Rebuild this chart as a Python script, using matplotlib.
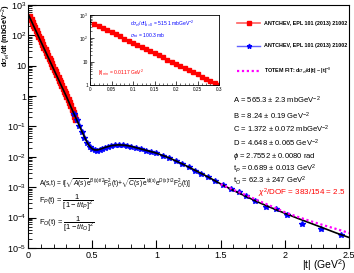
import numpy as np
import matplotlib
matplotlib.use("Agg")
import matplotlib.pyplot as plt
from matplotlib.ticker import FixedLocator, FuncFormatter
from matplotlib.lines import Line2D

plt.rcParams['font.family'] = ['Liberation Sans', 'DejaVu Sans']
plt.rcParams['mathtext.fontset'] = 'custom'
plt.rcParams['mathtext.rm'] = 'Liberation Sans'
plt.rcParams['mathtext.it'] = 'Liberation Sans:italic'
plt.rcParams['mathtext.bf'] = 'Liberation Sans:bold'
plt.rcParams['mathtext.sf'] = 'Liberation Sans'

# red data set (low |t|)
t_red = [0.01, 0.02, 0.03, 0.04, 0.05, 0.06, 0.07, 0.08, 0.09, 0.10,
         0.11, 0.12, 0.13, 0.14, 0.15, 0.16, 0.17, 0.18, 0.19, 0.20,
         0.21, 0.22, 0.23, 0.24, 0.25, 0.26, 0.27, 0.28, 0.29, 0.30,
         0.31, 0.32, 0.33, 0.34, 0.35, 0.36, 0.37]
y_red = [418, 338, 277, 223, 183, 147, 121, 97, 79.5, 64.0,
         52.5, 42.2, 34.6, 27.8, 22.9, 18.4, 15.1, 12.1, 9.95, 8.0,
         6.55, 5.3, 4.33, 3.48, 2.86, 2.30, 1.89, 1.51, 1.25, 1.0,
         0.80, 0.62, 0.49, 0.38, 0.29, 0.22, 0.17]

# blue data set (high |t|)
t_blue = [0.36, 0.38, 0.40, 0.42, 0.44, 0.46, 0.48, 0.50, 0.52, 0.54,
          0.56, 0.58, 0.60, 0.62, 0.65, 0.68, 0.71, 0.74, 0.77, 0.80,
          0.84, 0.88, 0.92, 0.96, 1.00, 1.05, 1.10, 1.15, 1.20, 1.25,
          1.30, 1.35, 1.40, 1.46, 1.52, 1.58, 1.64, 1.70, 1.77, 1.85,
          1.93, 2.02, 2.13, 2.28, 2.44]
y_blue = [0.25, 0.16, 0.10, 0.065, 0.042, 0.029, 0.021, 0.0175, 0.0162, 0.0160,
          0.0170, 0.0185, 0.0200, 0.0215, 0.0232, 0.0243, 0.0247, 0.0240, 0.0230, 0.0215,
          0.0195, 0.0175, 0.0160, 0.0145, 0.0133, 0.0110, 0.0090, 0.0073, 0.0057, 0.0045,
          0.0035, 0.0027, 0.0021, 0.00160, 0.00118, 0.00090, 0.00068, 0.00050, 0.00036, 0.00022,
          0.000185, 0.000125, 6.0e-5, 4.2e-5, 2.6e-5]

# fit curve
t_fit = [0.0, 0.05, 0.1, 0.15, 0.2, 0.25, 0.3, 0.35, 0.4, 0.43, 0.46, 0.48,
         0.5, 0.52, 0.54, 0.56, 0.6, 0.65, 0.7, 0.75, 0.8, 0.9, 1.0, 1.1,
         1.2, 1.3, 1.4, 1.5, 1.6, 1.7, 1.8, 1.9, 2.0, 2.1, 2.2, 2.3, 2.4, 2.5]
y_fit = [515, 180, 63, 22, 7.7, 2.7, 0.95, 0.31, 0.105, 0.055, 0.030, 0.022,
         0.0182, 0.0168, 0.0168, 0.0176, 0.0203, 0.0233, 0.0247, 0.0241, 0.0222, 0.0172, 0.0132, 0.0092,
         0.0059, 0.0036, 0.0022, 0.00128, 0.00078, 0.00049, 0.00031, 0.000205, 0.000138, 9.4e-5,
         6.5e-5, 4.5e-5, 3.1e-5, 2.2e-5]

# totem |t|^-8 fit
t_pow = [1.5, 1.6, 1.7, 1.8, 1.9, 2.0, 2.1, 2.2, 2.3, 2.4, 2.5]
y_pow = [1.25e-3, 8.2e-4, 5.4e-4, 3.5e-4, 2.3e-4, 1.5e-4, 1.05e-4, 7.6e-5, 5.6e-5, 4.2e-5, 3.1e-5]

params = ["A = 565.3 $\\pm$ 2.3 mbGeV$^{-2}$",
          "B = 8.24 $\\pm$ 0.19 GeV$^{-2}$",
          "C = 1.372 $\\pm$ 0.072 mbGeV$^{-2}$",
          "D = 4.648 $\\pm$ 0.065 GeV$^{-2}$",
          "$\\phi$ = 2.7552 $\\pm$ 0.0080 rad",
          "t$_P$ = 0.689 $\\pm$ 0.013 GeV$^2$",
          "t$_O$ = 62.3 $\\pm$ 247 GeV$^2$"]
param_y = [100, 116, 129.5, 143, 156, 168.5, 181]

W, H = 354, 273
fig = plt.figure(figsize=(W / 100, H / 100), dpi=100)
ax = fig.add_axes([0.079, 0.092, 0.907, 0.890])

t_red = np.array(t_red)
y_red = np.array(y_red)
t_blue = np.array(t_blue)
y_blue = np.array(y_blue)

ax.errorbar(t_red, y_red, xerr=0.005, yerr=0.08 * y_red, fmt='s', color='red',
            ms=3.6, elinewidth=1.2, capsize=0, zorder=2)
ax.errorbar(t_blue, y_blue, xerr=0.012, yerr=0.08 * y_blue, fmt='*', color='blue',
            ms=4, elinewidth=0.8, capsize=0, zorder=2)
ax.plot(t_fit, y_fit, color='black', lw=1.2, zorder=3)
ax.plot(t_pow, y_pow, color='magenta', lw=1.6, ls=(0, (1, 1.2)), zorder=4)

ax.set_yscale('log')
ax.set_xlim(0, 2.5)
ax.set_ylim(1e-5, 1e3)


def root_log(v, pos):
    e = int(round(np.log10(v)))
    if e == 0:
        return "1"
    if e == 1:
        return "10"
    return "$10^{%d}$" % e


ax.yaxis.set_major_formatter(FuncFormatter(root_log))
ax.set_xticks([0, 0.5, 1, 1.5, 2, 2.5])
ax.set_xticklabels(["0", "0.5", "1", "1.5", "2", "2.5"])
ax.xaxis.set_minor_locator(FixedLocator(np.arange(0, 2.51, 0.1)))
ax.tick_params(which='both', direction='in', top=False, right=False, labelsize=6.5, pad=2)
ax.tick_params(axis='y', pad=1.5)
ax.tick_params(which='major', length=6, width=0.8)
ax.tick_params(which='minor', length=3, width=0.6)

fig.text(6 / W, 1 - 4 / H, "d$\\sigma_{el}$/dt (mbGeV$^{-2}$)", rotation=90,
         ha='center', va='top', fontsize=5.3, fontweight='bold')
fig.text(347 / W, 1 - 265 / H, "|t| (GeV$^2$)", ha='right', va='center', fontsize=7.5)

# legend
h1 = Line2D([], [], color='#ff6060', marker='s', mfc='red', mec='red', ms=3, lw=1.2)
h2 = Line2D([], [], color='#6060ff', marker='*', mfc='blue', mec='blue', ms=3.5, lw=1.0)
h3 = Line2D([], [], color='magenta', ls=(0, (1, 1.2)), lw=1.6)
leg = ax.legend([h1, h2, h3], ["ANTCHEV, EPL 101 (2013) 21002",
                               "ANTCHEV, EPL 101 (2013) 21002",
                               "TOTEM FIT: d$\\sigma_{el}$/d|t| ~ |t|$^{-8}$"],
                loc='upper left', bbox_to_anchor=((235 - 28) / 321, 1 - 14 / 243),
                frameon=False, fontsize=3.9, labelspacing=3.2, handlelength=4.2,
                handletextpad=0.7, borderaxespad=0)
for tx in leg.get_texts():
    tx.set_fontweight('bold')

for s, yy in zip(params, param_y):
    fig.text(233 / W, 1 - yy / H, s, ha='left', va='center', fontsize=5.5)
fig.text(258 / W, 1 - 193 / H, "$\\chi^2$/DOF = 383/154 = 2.5", color='red',
         ha='left', va='center', fontsize=5.8)

fig.text(39 / W, 1 - 183 / H,
         "A(s,t) = i[$\\sqrt{A(s)}$e$^{B(s)t/2}$F$_P^2$(t)+$\\sqrt{C(s)}$e$^{i\\phi(s)}$e$^{D(s)t/2}$F$_O^2$(t)]",
         ha='left', va='center', fontsize=4.8)
fig.text(39 / W, 1 - 202 / H, "F$_P$(t) = $\\dfrac{1}{[1-t/t_P]^2}$",
         ha='left', va='center', fontsize=5.4)
fig.text(39 / W, 1 - 224 / H, "F$_O$(t) = $\\dfrac{1}{[1-t/t_O]^2}$",
         ha='left', va='center', fontsize=5.4)

# inset
ins = fig.add_axes([90 / W, 1 - 85 / H, 129 / W, 70 / H])
m = t_red <= 0.3
ins.errorbar(t_red[m], y_red[m], xerr=0.005, yerr=0.1 * y_red[m], fmt='s', color='red',
             ms=3.4, elinewidth=1.4, capsize=0)
ins.plot(t_fit[:7], y_fit[:7], color='black', lw=1.0)
ins.set_yscale('log')
ins.set_xlim(0, 0.3)
ins.set_ylim(1, 1000)
ins.yaxis.set_major_formatter(FuncFormatter(root_log))
ins.set_xticks([0, 0.05, 0.1, 0.15, 0.2, 0.25, 0.3])
ins.set_xticklabels(["0", "0.05", "0.1", "0.15", "0.2", "0.25", "0.3"])
ins.xaxis.set_minor_locator(FixedLocator(np.arange(0, 0.301, 0.01)))
ins.tick_params(which='both', direction='in', top=False, right=False, labelsize=3.4, pad=1.5)
ins.tick_params(which='major', length=3, width=0.5)
ins.tick_params(which='minor', length=1.5, width=0.4)
for sp in ins.spines.values():
    sp.set_linewidth(0.6)
ins.text(0.31, 0.87, "d$\\sigma_{el}$/dt|$_{t=0}$ = 515.1 mbGeV$^{-2}$", transform=ins.transAxes,
         color='blue', fontsize=3.6, ha='left', va='center')
ins.text(0.31, 0.71, "$\\sigma_{tot}$ = 100.3 mb", transform=ins.transAxes,
         color='blue', fontsize=3.6, ha='left', va='center')
ins.text(0.06, 0.17, "|t|$_{min}$ = 0.0117 GeV$^2$", transform=ins.transAxes,
         color='red', fontsize=3.6, ha='left', va='center')

fig.savefig("out.png", dpi=100)
